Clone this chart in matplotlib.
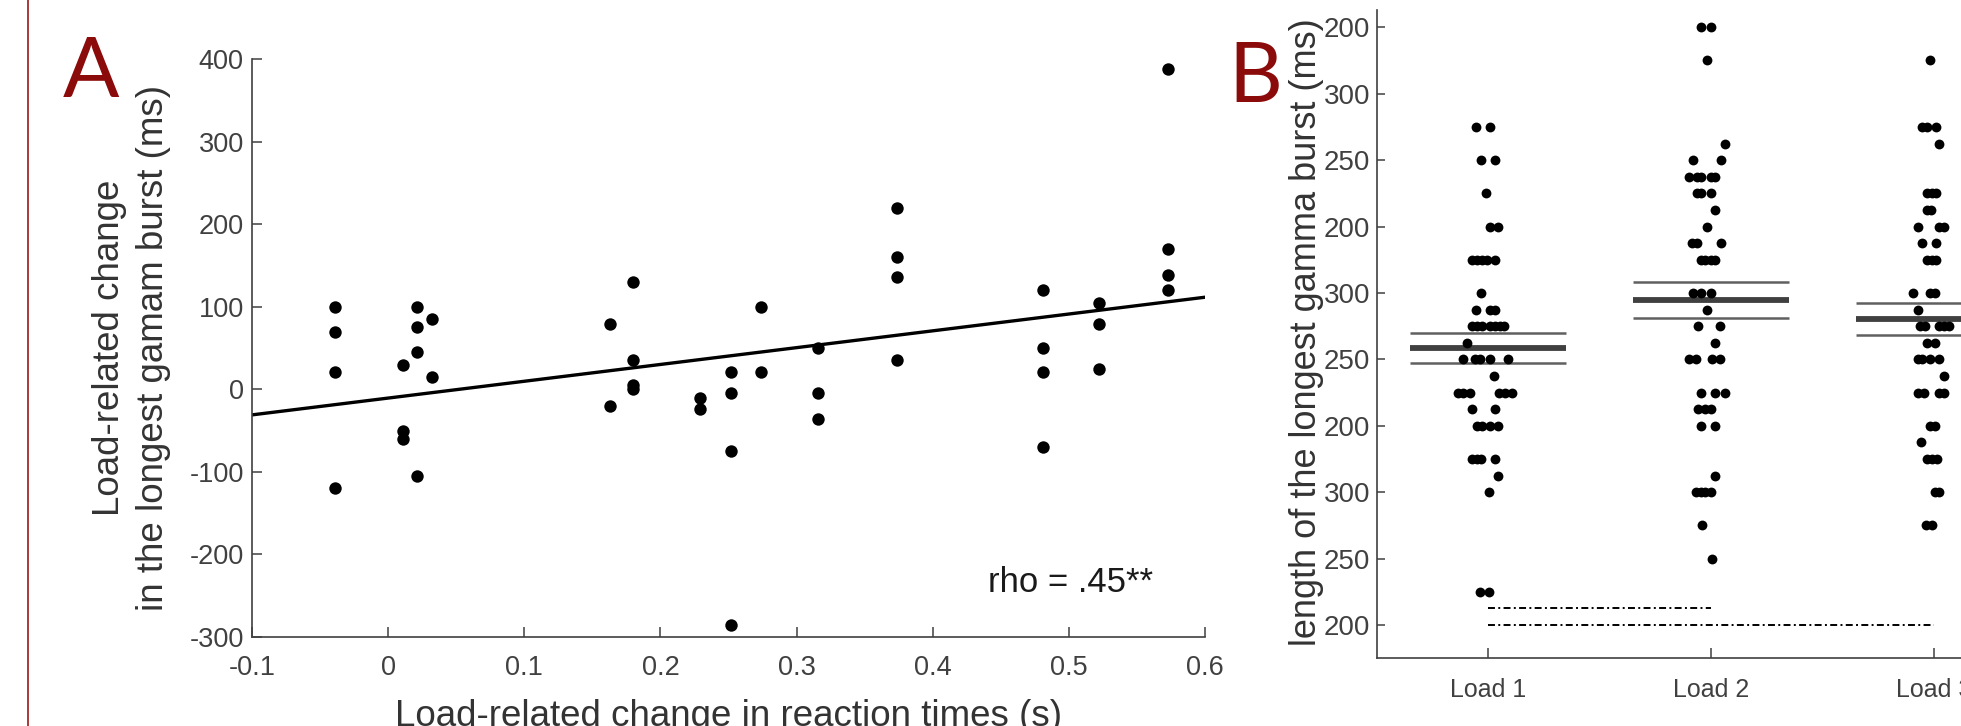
"""Two-panel figure: RT change vs gamma-burst change (A) and burst length per load (B)."""

import matplotlib

matplotlib.use("Agg")
import matplotlib.pyplot as plt

plt.rcParams["font.family"] = ["Liberation Sans", "DejaVu Sans"]
plt.rcParams["lines.scale_dashes"] = False
plt.rcParams["axes.unicode_minus"] = False

# ---- panel A: load-related changes ------------------------------------------
rt_change = [-0.039, -0.039, -0.039, -0.039,
             0.011, 0.011, 0.011,
             0.021, 0.021, 0.021, 0.021,
             0.032, 0.032,
             0.163, 0.163,
             0.180, 0.180, 0.180, 0.180,
             0.229, 0.229,
             0.252, 0.252, 0.252, 0.252,
             0.274, 0.274,
             0.316, 0.316, 0.316,
             0.374, 0.374, 0.374, 0.374,
             0.481, 0.481, 0.481, 0.481,
             0.522, 0.522, 0.522,
             0.573, 0.573, 0.573, 0.573]
burst_change = [100, 69, 21, -120,
                30, -50, -60,
                100, 75, 45, -105,
                85, 15,
                79, -20,
                130, 36, 5, 0,
                -10, -24,
                21, -5, -75, -285,
                100, 21,
                50, -5, -36,
                219, 160, 136, 36,
                120, 50, 21, -70,
                105, 79, 25,
                388, 170, 139, 120]
fit_x = [-0.1, 0.6]
fit_y = [-31.0, 111.5]
rho_label = "rho = .45**"

# ---- panel B: longest gamma burst per load ----------------------------------
loads = ["Load 1", "Load 2", "Load 3"]
load1_ms = [575, 575, 550, 550, 525, 500, 500,
            475, 475, 475, 475, 475, 450, 437.5, 437.5, 437.5,
            425, 425, 425, 425, 425, 425, 425, 412.5,
            400, 400, 400, 400, 400, 387.5,
            375, 375, 375, 375, 375, 375, 362.5, 362.5,
            350, 350, 350, 350, 325, 325, 325, 325,
            312.5, 300, 225, 225]
load1_dx = [-0.056, 0.007, -0.033, 0.030, -0.011, 0.007, 0.043,
            -0.074, -0.051, -0.029, -0.006, 0.030, -0.033, -0.056, 0.007, 0.030,
            -0.074, -0.051, -0.029, 0.007, 0.030, 0.052, 0.070, -0.096,
            -0.114, -0.060, -0.038, 0.007, 0.088, 0.025,
            -0.136, -0.114, -0.083, 0.048, 0.075, 0.106, -0.074, 0.030,
            -0.051, -0.029, 0.007, 0.043, -0.074, -0.051, -0.033, 0.030,
            0.043, 0.003, -0.038, 0.003]
load2_ms = [650, 650, 625, 562.5, 550, 550,
            537.5, 537.5, 537.5, 537.5, 537.5, 525, 525, 525, 512.5, 500,
            487.5, 487.5, 487.5, 475, 475, 475, 475,
            450, 450, 450, 437.5, 425, 425, 412.5,
            400, 400, 400, 400, 375, 375, 375,
            362.5, 362.5, 362.5, 350, 350, 312.5,
            300, 300, 300, 300, 275, 250]
load2_dx = [-0.044, 0.001, -0.021, 0.060, -0.081, 0.042,
            -0.101, -0.063, -0.044, -0.003, 0.019, -0.063, -0.044, 0.001, 0.019, -0.021,
            -0.088, -0.063, 0.042, -0.048, -0.026, -0.003, 0.019,
            -0.081, -0.044, 0.001, -0.021, -0.060, 0.039, 0.019,
            -0.101, -0.069, 0.003, 0.039, -0.044, 0.019, 0.060,
            -0.060, -0.026, 0.001, -0.044, 0.019, 0.019,
            -0.070, -0.048, -0.026, -0.003, -0.042, 0.003]
load3_ms = [625, 575, 575, 575, 562.5, 525, 525, 525, 512.5, 512.5,
            500, 500, 500, 487.5, 487.5, 475, 475, 475,
            450, 450, 450, 437.5, 425, 425, 425, 425, 425, 412.5, 412.5,
            400, 400, 400, 400, 387.5, 375, 375, 375, 375,
            350, 350, 337.5, 325, 325, 325, 300, 300, 275, 275]
load3_dx = [-0.016, -0.053, -0.031, 0.009, 0.024, -0.031, -0.009, 0.009, -0.031, -0.013,
            -0.071, 0.021, 0.044, -0.053, 0.009, -0.031, -0.009, 0.009,
            -0.094, -0.016, 0.006, -0.071, -0.061, -0.039, 0.021, 0.044, 0.066, -0.031, 0.006,
            -0.071, -0.053, -0.016, 0.021, 0.047, -0.071, -0.046, 0.021, 0.044,
            -0.016, 0.006, -0.057, -0.031, -0.009, 0.014, 0.006, 0.024, -0.034, -0.007]
mean_ms = [408.5, 444.6, 430.3]
ci_low_ms = [397.2, 431.0, 418.3]
ci_high_ms = [419.8, 458.1, 442.3]
sig_from = [1, 1]
sig_to = [2, 3]
sig_ms = [212.5, 200.0]
b_ticks = [200, 250, 300, 350, 400, 450, 500, 550, 600, 650]
b_tick_labels = ["200", "250", "300", "200", "250", "300", "200", "250", "300", "200"]

W, H = 1961, 726
AXIS_GREY = "#404040"
PANEL_RED = "#8B0A0A"


def rect(left, top, right, bottom):
    return [left / W, (H - bottom) / H, (right - left) / W, (bottom - top) / H]


def style_axes(ax):
    for side in ("top", "right"):
        ax.spines[side].set_visible(False)
    for side in ("left", "bottom"):
        ax.spines[side].set_color(AXIS_GREY)
        ax.spines[side].set_linewidth(1.2)


def panel_a(fig):
    ax = fig.add_axes(rect(252, 59, 1205, 637))
    style_axes(ax)
    ax.scatter(rt_change, burst_change, s=80, color="black", linewidths=0, zorder=3)
    ax.plot(fit_x, fit_y, color="black", lw=2.4, zorder=2)
    ax.set_xlim(-0.1, 0.6)
    ax.set_ylim(-300, 400)
    ax.set_xticks([-0.1, 0, 0.1, 0.2, 0.3, 0.4, 0.5, 0.6])
    ax.set_xticklabels(["-0.1", "0", "0.1", "0.2", "0.3", "0.4", "0.5", "0.6"])
    ax.set_yticks([-300, -200, -100, 0, 100, 200, 300, 400])
    ax.tick_params(direction="in", length=7.5, width=1.1, colors=AXIS_GREY,
                   labelsize=19.5, labelcolor=AXIS_GREY)
    ax.tick_params(axis="x", pad=13)
    ax.tick_params(axis="y", pad=6)
    ax.set_xlabel("Load-related change in reaction times (s)", fontsize=26.5,
                  color="#333333", labelpad=13)
    ax.set_ylabel("Load-related change\nin the longest gamam burst (ms)", fontsize=26.5,
                  color="#333333", linespacing=1.35)
    ax.yaxis.set_label_coords(-0.085, 0.5)
    ax.text(0.4405, -245, rho_label, fontsize=25, color="#1a1a1a", va="baseline")


def panel_b(fig):
    ax = fig.add_axes(rect(1377, 10, 1377 + 668.4, 658.3))
    style_axes(ax)
    columns = [(load1_ms, load1_dx), (load2_ms, load2_dx), (load3_ms, load3_dx)]
    for i, (vals, dx) in enumerate(columns):
        pos = i + 1
        ax.hlines(ci_low_ms[i], pos - 0.35, pos + 0.35, color="#606060", lw=1.8, zorder=2)
        ax.hlines(ci_high_ms[i], pos - 0.35, pos + 0.35, color="#606060", lw=1.8, zorder=2)
        ax.hlines(mean_ms[i], pos - 0.35, pos + 0.35, color="#404040", lw=4.2, zorder=2)
        ax.scatter([pos + d for d in dx], vals, s=50, color="black", linewidths=0, zorder=3)
    for start, stop, level in zip(sig_from, sig_to, sig_ms):
        ax.plot([start, stop], [level, level], color="black", lw=1.4,
                linestyle=(0, (5.0, 2.4, 1.4, 2.4)), zorder=2)
    ax.set_xlim(0.5, 3.5)
    ax.set_ylim(175, 663)
    ax.set_xticks([1, 2, 3])
    ax.set_xticklabels(loads)
    ax.set_yticks(b_ticks)
    ax.set_yticklabels(b_tick_labels)
    ax.tick_params(direction="in", width=1.1, colors=AXIS_GREY, labelcolor=AXIS_GREY)
    ax.tick_params(axis="x", length=7.5, pad=14, labelsize=18)
    ax.tick_params(axis="y", length=5.5, pad=5, labelsize=20)
    ax.set_ylabel("length of the longest gamma burst (ms)", fontsize=26, color="#333333")
    ax.yaxis.set_label_coords(-0.08, 0.5025)


def main():
    fig = plt.figure(figsize=(W / 100, H / 100), dpi=100)
    fig.add_artist(plt.Line2D([28 / W, 28 / W], [0, 1], color="#A52A2A", lw=1.3))
    panel_a(fig)
    panel_b(fig)
    fig.text(91 / W, 1 - 97 / H, "A", fontsize=60, color=PANEL_RED, ha="center",
             va="baseline", family=["Lato", "Liberation Sans"])
    fig.text(1255 / W, 1 - 102 / H, "B", fontsize=60, color=PANEL_RED, ha="center",
             va="baseline", family=["Lato", "Liberation Sans"])
    fig.savefig("out.png", dpi=100)
    plt.close(fig)


if __name__ == "__main__":
    main()
